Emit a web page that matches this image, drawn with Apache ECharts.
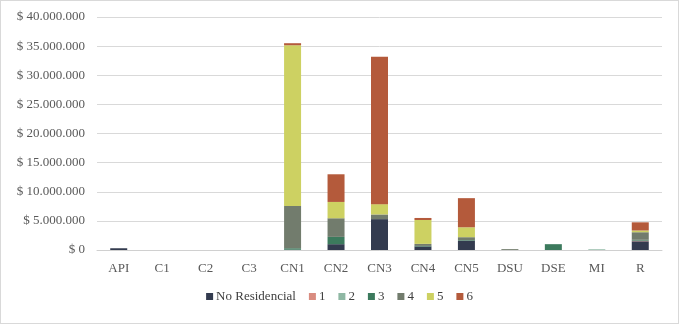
<!DOCTYPE html>
<html>
<head>
<meta charset="utf-8">
<script src="https://cdn.jsdelivr.net/npm/echarts@6/dist/echarts.min.js"></script>
<style>
  html, body { margin: 0; padding: 0; background: #fff; }
  #chart { width: 677px; height: 322px; border: 1px solid #d9d9d9; }
</style>
</head>
<body>
<div id="chart"></div>
<script>
var categories = ['API', 'C1', 'C2', 'C3', 'CN1', 'CN2', 'CN3', 'CN4', 'CN5', 'DSU', 'DSE', 'MI', 'R'];
var seriesNames = ['No Residencial', '1', '2', '3', '4', '5', '6'];
// valores en millones de pesos
var noResidencial = [0.3, 0, 0, 0, 0.05, 1.0, 5.3, 0.6, 1.6, 0, 0, 0, 1.5];
var s1 = [0, 0, 0, 0, 0, 0, 0, 0, 0, 0, 0, 0, 0.1];
var s2 = [0, 0, 0, 0, 0, 0, 0, 0, 0, 0, 0, 0.12, 0];
var s3 = [0, 0, 0, 0, 0.25, 1.25, 0, 0.1, 0.1, 0, 1.0, 0, 0.15];
var s4 = [0, 0, 0, 0, 7.25, 3.2, 0.8, 0.35, 0.5, 0.15, 0, 0, 1.3];
var s5 = [0, 0, 0, 0, 27.6, 2.8, 1.77, 4.1, 1.7, 0, 0, 0, 0.3];
var s6 = [0, 0, 0, 0, 0.35, 4.75, 25.3, 0.35, 5.0, 0, 0, 0, 1.4];
var colors = ['#333b4f', '#d98c80', '#8fb8a4', '#3c7a5d', '#727c6d', '#cdd162', '#b45a3b'];

var allData = [noResidencial, s1, s2, s3, s4, s5, s6];

function fmt(v) {
    var s = String(Math.round(v));
    return '$ ' + s.replace(/\B(?=(\d{3})+(?!\d))/g, '.');
}

var chart = echarts.init(document.getElementById('chart'));
var font = 'Liberation Serif';
var series = [];
for (var i = 0; i < seriesNames.length; i++) {
    series.push({
        name: seriesNames[i],
        type: 'bar',
        stack: 'total',
        barWidth: 17,
        itemStyle: { color: colors[i] },
        data: allData[i].map(function (v) { return v * 1000000; })
    });
}

var option = {
    animation: false,
    textStyle: { fontFamily: font },
    grid: { left: 96, right: 16, top: 16, bottom: 73 },
    legend: {
        data: seriesNames,
        bottom: 15,
        left: 'center',
        icon: 'rect',
        itemWidth: 7,
        itemHeight: 7,
        itemGap: 13,
        textStyle: { color: '#404040', fontSize: 13, fontFamily: font, padding: [0, 0, 0, -2] }
    },
    xAxis: {
        type: 'category',
        data: categories,
        axisTick: { show: false },
        axisLine: { lineStyle: { color: '#d0d0d0', width: 1 } },
        axisLabel: { color: '#595959', fontSize: 13, margin: 12, fontFamily: font }
    },
    yAxis: {
        type: 'value',
        min: 0,
        max: 40000000,
        interval: 5000000,
        axisLine: { show: false },
        axisTick: { show: false },
        splitLine: { lineStyle: { color: '#d9d9d9', width: 1 } },
        axisLabel: { color: '#595959', fontSize: 13, margin: 12, fontFamily: font, formatter: fmt }
    },
    series: series
};
chart.setOption(option);
</script>
</body>
</html>
